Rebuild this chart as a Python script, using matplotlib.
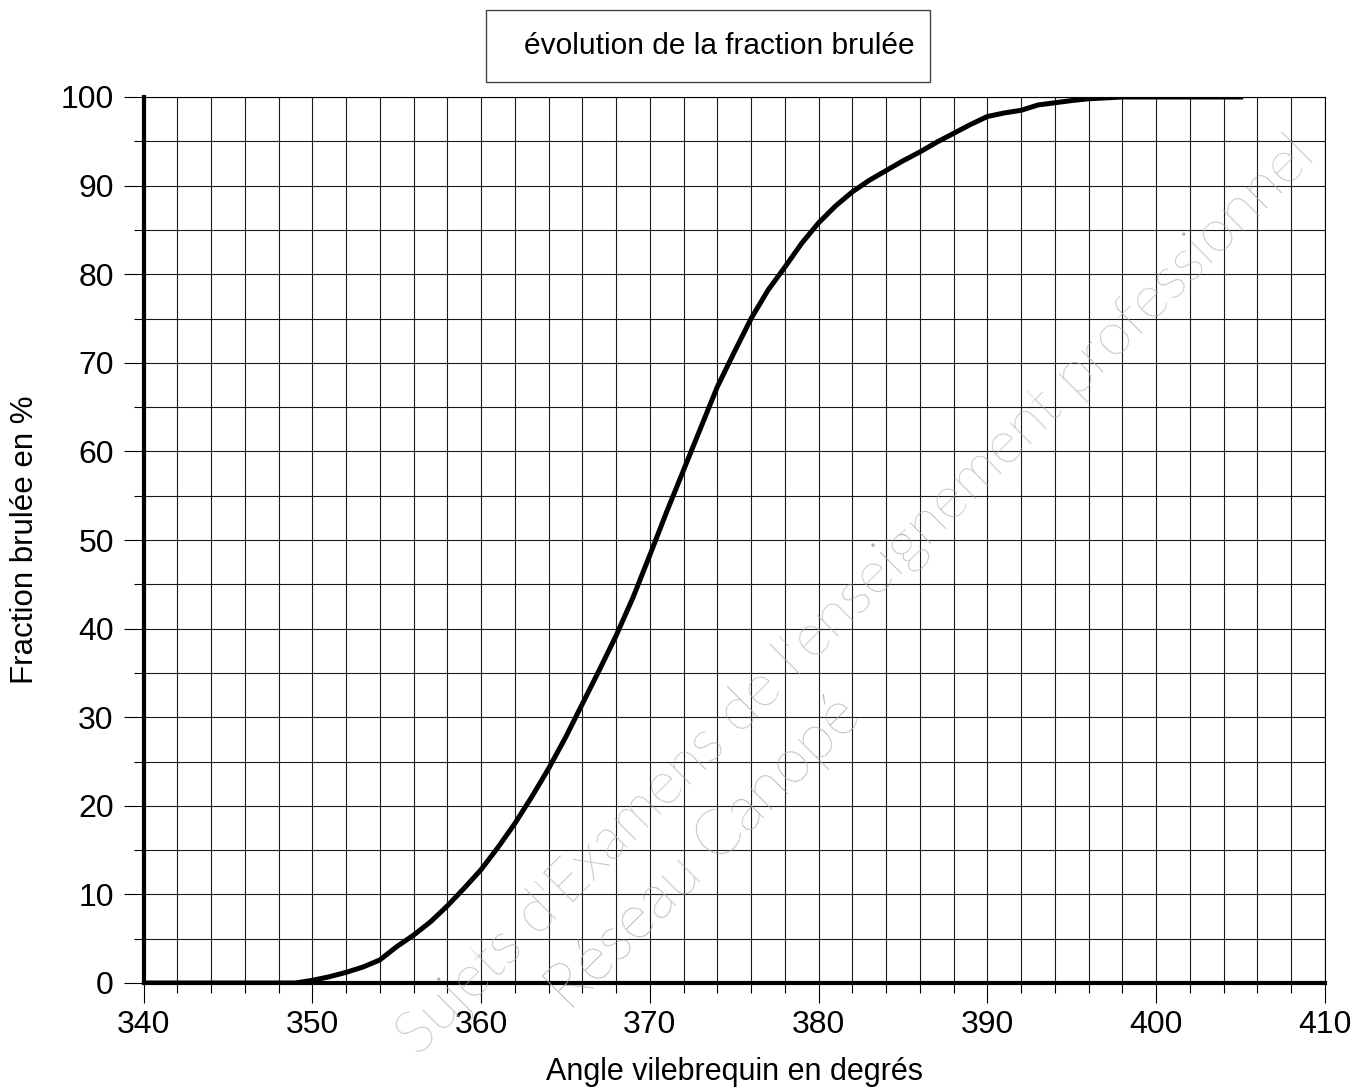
import matplotlib
matplotlib.use("Agg")
import matplotlib.pyplot as plt
from matplotlib.patches import Rectangle
from matplotlib.ticker import MultipleLocator

# --- data ---
angle = [340, 341, 342, 343, 344, 345, 346, 347, 348, 349,
         350, 351, 352, 353, 354, 355, 356, 357, 358, 359,
         360, 361, 362, 363, 364, 365, 366, 367, 368, 369,
         370, 371, 372, 373, 374, 375, 376, 377, 378, 379,
         380, 381, 382, 383, 384, 385, 386, 387, 388, 389,
         390, 391, 392, 393, 394, 395, 396, 397, 398, 399,
         400, 401, 402, 403, 404, 405]
fraction = [0, 0, 0, 0, 0, 0, 0, 0, 0, 0,
            0.3, 0.7, 1.2, 1.8, 2.6, 4.1, 5.4, 6.9, 8.7, 10.7,
            12.8, 15.3, 18.0, 21.0, 24.2, 27.7, 31.5, 35.3, 39.2, 43.5,
            48.3, 53.2, 57.9, 62.6, 67.3, 71.2, 75.0, 78.2, 80.8, 83.5,
            85.8, 87.7, 89.3, 90.6, 91.7, 92.8, 93.8, 94.9, 95.9, 96.9,
            97.8, 98.2, 98.5, 99.1, 99.35, 99.6, 99.8, 99.9, 100, 100,
            100, 100, 100, 100, 100, 100]

title = "évolution de la fraction brulée"
xlabel = "Angle vilebrequin en degrés"
ylabel = "Fraction brulée en %"
watermark1 = "Sujets d'Examens de l'enseignement professionnel"
watermark2 = "Réseau Canopé"

plt.rcParams['font.family'] = ['Liberation Sans', 'DejaVu Sans']

W, H = 1372, 1091
fig = plt.figure(figsize=(W / 100, H / 100), dpi=100)
ax = fig.add_axes([143.5 / W, 1 - 983 / H, (1325 - 143.5) / W, (983 - 97) / H])

ax.set_xlim(340, 410)
ax.set_ylim(0, 100)
ax.xaxis.set_major_locator(MultipleLocator(10))
ax.xaxis.set_minor_locator(MultipleLocator(2))
ax.yaxis.set_major_locator(MultipleLocator(10))
ax.yaxis.set_minor_locator(MultipleLocator(5))

ax.grid(which='both', color='#1a1a1a', linewidth=0.8)
ax.set_axisbelow(True)

ax.plot(angle, fraction, color='black', linewidth=3.6, solid_joinstyle='round', zorder=3)

for s in ['left', 'bottom']:
    ax.spines[s].set_linewidth(3.0)
    ax.spines[s].set_zorder(4)
for s in ['top', 'right']:
    ax.spines[s].set_linewidth(0.8)

ax.tick_params(which='major', length=14.4, width=0.8, labelsize=23, color='black')
ax.tick_params(which='minor', length=7.2, width=0.8, color='black')
ax.tick_params(axis='x', which='major', pad=5)
ax.tick_params(axis='y', which='major', pad=7)

ax.set_xlabel(xlabel, fontsize=22, labelpad=12)
ax.set_ylabel(ylabel, fontsize=22.5, labelpad=15)

# title box
fig.add_artist(Rectangle((486 / W, 1 - 82 / H), 444 / W, 72 / H,
                         transform=fig.transFigure, fill=False,
                         edgecolor='#444444', linewidth=1.0))
fig.text(719 / W, 1 - 46 / H, title, fontsize=21.5, ha='center', va='center')

# watermark
wm_kw = dict(color='#aaaaaa', rotation=45, rotation_mode='anchor',
             ha='center', va='center', family=['Lato', 'DejaVu Sans'],
             fontweight='light', zorder=10)
fig.text(856 / W, 1 - 596 / H, watermark1, fontsize=43, **wm_kw)
fig.text(704 / W, 1 - 853 / H, watermark2, fontsize=45, **wm_kw)

fig.savefig("out.png", dpi=100)
